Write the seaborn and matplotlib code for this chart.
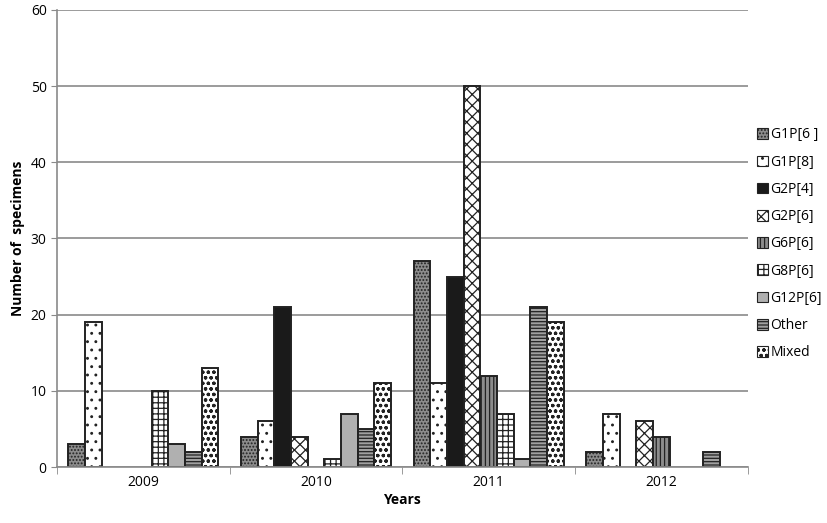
import pandas as pd
import numpy as np
import matplotlib.pyplot as plt
import seaborn as sns
from matplotlib.patches import Patch

# data
years = ['2009', '2010', '2011', '2012']
genotypes = ['G1P[6 ]', 'G1P[8]', 'G2P[4]', 'G2P[6]', 'G6P[6]',
             'G8P[6]', 'G12P[6]', 'Other', 'Mixed']
g1p6 = [3, 4, 27, 2]
g1p8 = [19, 6, 11, 7]
g2p4 = [0, 21, 25, 0]
g2p6 = [0, 4, 50, 6]
g6p6 = [0, 0, 12, 4]
g8p6 = [10, 1, 7, 0]
g12p6 = [3, 7, 1, 0]
other = [2, 5, 21, 2]
mixed = [13, 11, 19, 0]

series = [g1p6, g1p8, g2p4, g2p6, g6p6, g8p6, g12p6, other, mixed]
rows = []
for name, vals in zip(genotypes, series):
    for yr, v in zip(years, vals):
        rows.append({'Year': yr, 'Genotype': name, 'Count': v})
df = pd.DataFrame(rows)

# fill / hatch per genotype
styles = {
    'G1P[6 ]': ('#8c8c8c', '.....'),
    'G1P[8]': ('white', '..'),
    'G2P[4]': ('#1a1a1a', ''),
    'G2P[6]': ('white', 'xxx'),
    'G6P[6]': ('#8c8c8c', '||||'),
    'G8P[6]': ('white', '+++'),
    'G12P[6]': ('#b0b0b0', ''),
    'Other': ('#a0a0a0', '-----'),
    'Mixed': ('white', 'ooo'),
}

plt.rcParams['font.family'] = ['Open Sans', 'DejaVu Sans']
plt.rcParams['hatch.linewidth'] = 0.9

fig = plt.figure(figsize=(8.27, 5.23), dpi=100)
ax = fig.add_axes([0.069, 0.107, 0.835, 0.874])

sns.barplot(data=df, x='Year', y='Count', hue='Genotype', hue_order=genotypes,
            order=years, width=0.87, gap=0, ax=ax, legend=False,
            edgecolor='#222222', linewidth=1.4)

for cont, name in zip(ax.containers, genotypes):
    fc, hatch = styles[name]
    for bar in cont:
        bar.set_facecolor(fc)
        bar.set_hatch(hatch)
        if bar.get_height() == 0:
            bar.set_visible(False)

ax.set_ylim(0, 60)
ax.set_yticks(range(0, 61, 10))
ax.set_xlim(-0.5, 3.5)
ax.yaxis.grid(True, color='#8a8a8a', linewidth=1.2)
ax.set_axisbelow(True)
for s in ['top', 'right']:
    ax.spines[s].set_visible(False)
for s in ['left', 'bottom']:
    ax.spines[s].set_color('#8a8a8a')
    ax.spines[s].set_linewidth(1.2)

ax.tick_params(axis='x', length=0, labelsize=10, pad=6)
ax.tick_params(axis='y', length=4, color='#8a8a8a', labelsize=10)
ax.set_xticks(np.arange(-0.5, 4.0, 1.0), minor=True)
ax.tick_params(axis='x', which='minor', length=5, color='#8a8a8a')

ax.set_xlabel('Years', fontweight='bold', fontsize=10, labelpad=2)
ax.set_ylabel('Number of  specimens', fontweight='bold', fontsize=10)

handles = [Patch(facecolor=styles[g][0], hatch=styles[g][1], edgecolor='#222222',
                 linewidth=0.8, label=g) for g in genotypes]
ax.legend(handles=handles, loc='upper left', bbox_to_anchor=(1.005, 0.755),
          frameon=False, fontsize=10, handlelength=0.8, handleheight=0.8,
          handletextpad=0.2, labelspacing=0.88, borderaxespad=0)

fig.savefig('out.png', dpi=100)
